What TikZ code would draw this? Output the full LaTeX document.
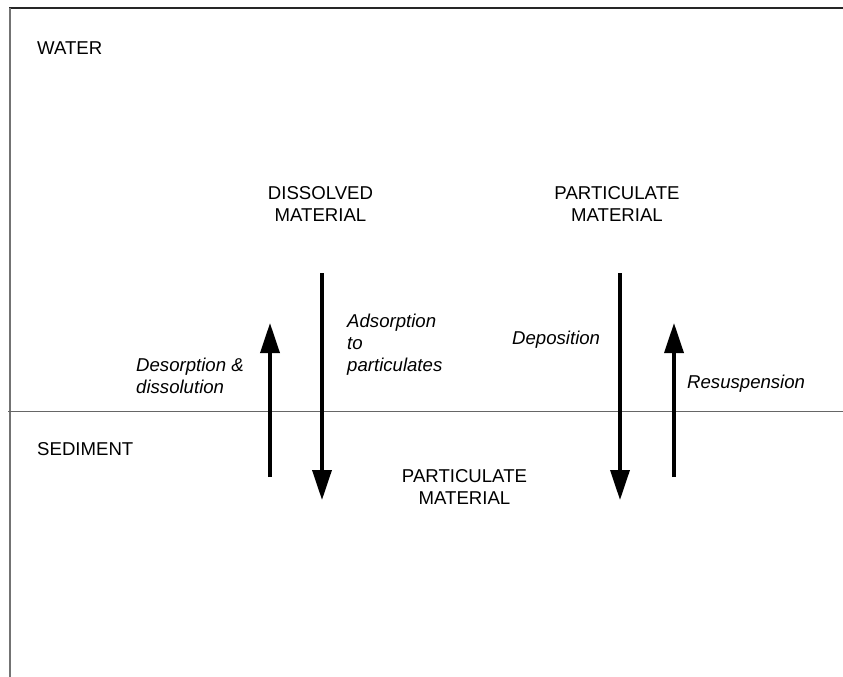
\documentclass[tikz,border=0pt]{standalone}
\usepackage{fontspec}
\setmainfont{Liberation Sans}
\usetikzlibrary{arrows.meta}
\begin{document}
\begin{tikzpicture}[
                x=1pt, y=-1pt,
                every node/.style={inner sep=0pt, font=\fontsize{18.6}{22}\selectfont},
                zone/.style={anchor=west},
                title/.style={align=center},
                process/.style={anchor=west, align=left, font=\fontsize{18.6}{22}\selectfont\itshape},
                flow/.style={line width=3.5pt, -{Triangle[length=30pt,width=19pt]}},
            ]
            \useasboundingbox[fill=white] (0,0) rectangle (843,677);
            % frame and water/sediment boundary
            \draw[line width=1.4pt, black!85] (9,8) -- (843,8);
            \draw[line width=1.4pt, black!55] (10,8) -- (10,677);
            \draw[line width=0.9pt, black!60] (8,411) -- (843,411);
            \node[zone] (water) at (37,48) {WATER};
            \node[zone] (sediment) at (37,449) {SEDIMENT};
            \node[title] (dissolved) at (320.5,204.5) {DISSOLVED\\MATERIAL};
            \node[title] (partwater) at (617,204.5) {PARTICULATE\\MATERIAL};
            \node[title] (partsed) at (464.5,487) {PARTICULATE\\MATERIAL};
            \node[process] (desorb) at (136,376) {Desorption \&\\dissolution};
            \node[process] (adsorb) at (347,345) {Adsorption\\to\\particulates};
            \node[process] (deposit) at (512,340) {Deposition};
            \node[process] (resusp) at (687,383.5) {Resuspension};
            % arrow ends
            \coordinate (desorb-s) at (270,477);
            \coordinate (desorb-e) at (270,323);
            \coordinate (adsorb-s) at (322,273);
            \coordinate (adsorb-e) at (322,500);
            \coordinate (deposit-s) at (620,273);
            \coordinate (deposit-e) at (620,500);
            \coordinate (resusp-s) at (674,477);
            \coordinate (resusp-e) at (674,323);
            \draw[flow] (desorb-s) -- (desorb-e);
            \draw[flow] (adsorb-s) -- (adsorb-e);
            \draw[flow] (deposit-s) -- (deposit-e);
            \draw[flow] (resusp-s) -- (resusp-e);
            \end{tikzpicture}
\end{document}
